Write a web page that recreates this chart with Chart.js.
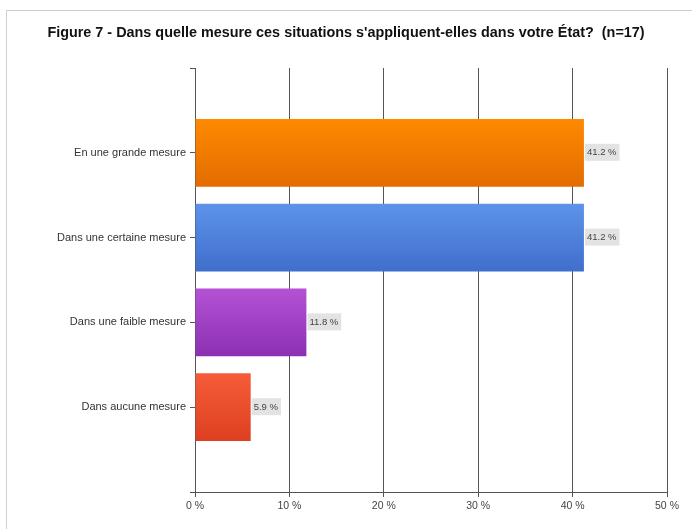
<!DOCTYPE html>
<html lang="fr">
<head>
<meta charset="utf-8">
<title>Figure 7</title>
<script src="https://cdn.jsdelivr.net/npm/chart.js@4/dist/chart.umd.min.js"></script>
<style>
    html, body { margin: 0; padding: 0; background: #fff; }
    #wrap { position: relative; width: 692px; height: 529px; overflow: hidden; }
    #frame { position: absolute; left: 6px; top: 10px; width: 700px; height: 540px;
             border-left: 1px solid #cfcfcf; border-top: 1px solid #cfcfcf; }
    #title { position: absolute; left: 0; width: 692px; top: 24px; text-align: center;
             font: bold 14.4px "Liberation Sans", Arial, sans-serif; color: #111; white-space: pre; }
    canvas { position: absolute; left: 0; top: 0; }
</style>
</head>
<body>
<div id="wrap">
    <div id="frame"></div>
    <canvas id="chart" width="692" height="529"></canvas>
    <div id="title">Figure 7 - Dans quelle mesure ces situations s'appliquent-elles dans votre État?  (n=17)</div>
</div>
<script>
// Categories (empty slots at both ends keep the spacing of the original)
const categories = ['', 'En une grande mesure', 'Dans une certaine mesure', 'Dans une faible mesure', 'Dans aucune mesure', ''];
// Percent of answers (n=17)
const values = [null, 41.2, 41.2, 11.8, 5.9, null];
// Top / bottom colours of each bar gradient
const topColors = [null, '#ff8a00', '#5e93ea', '#b452d4', '#f65c3a'];
const bottomColors = [null, '#e26c00', '#3f6ecb', '#8c30b2', '#dc4020'];
const xTicks = [0, 10, 20, 30, 40, 50];

const fontFamily = '"Liberation Sans", Arial, sans-serif';

// Vertical gradient for each bar, built from the y scale
function barGradient(ctx) {
    const chart = ctx.chart;
    const i = ctx.dataIndex;
    const yScale = chart.scales.y;
    if (!chart.chartArea || !yScale || topColors[i] == null) return topColors[i] || '#ccc';
    const step = yScale.getPixelForValue(1) - yScale.getPixelForValue(0);
    const y = yScale.getPixelForValue(i);
    const half = step * 0.8 / 2;
    const g = chart.ctx.createLinearGradient(0, y - half, 0, y + half);
    g.addColorStop(0, topColors[i]);
    g.addColorStop(1, bottomColors[i]);
    return g;
}

// Value labels with a grey box right of each bar
const valueLabels = {
    id: 'valueLabels',
    afterDatasetsDraw(chart) {
        const ctx = chart.ctx;
        const meta = chart.getDatasetMeta(0);
        ctx.save();
        ctx.font = '9.5px ' + fontFamily;
        ctx.textBaseline = 'middle';
        meta.data.forEach((el, i) => {
            if (values[i] == null) return;
            const text = values[i].toFixed(1) + ' %';
            const w = ctx.measureText(text).width + 5;
            const x = el.x + 1;
            ctx.fillStyle = '#e3e3e3';
            ctx.fillRect(x, el.y - 9, w, 17);
            ctx.fillStyle = '#444';
            ctx.fillText(text, x + 2, el.y);
        });
        ctx.restore();
    }
};

new Chart(document.getElementById('chart'), {
    type: 'bar',
    data: {
        labels: categories,
        datasets: [{
            data: values,
            backgroundColor: barGradient,
            borderWidth: 0,
            categoryPercentage: 0.8,
            barPercentage: 1
        }]
    },
    options: {
        indexAxis: 'y',
        responsive: false,
        animation: false,
        layout: { padding: { top: 68, right: 25, bottom: 0, left: 0 } },
        plugins: {
            legend: { display: false },
            tooltip: { enabled: false },
            title: { display: false }
        },
        scales: {
            x: {
                min: 0,
                max: 50,
                afterBuildTicks: s => { s.ticks = xTicks.map(v => ({ value: v })); },
                afterFit: s => { s.height = 37; },
                grid: { color: '#555', lineWidth: 1, tickLength: 5 },
                border: { display: true, color: '#555' },
                ticks: {
                    color: '#444',
                    padding: 3,
                    font: { family: fontFamily, size: 10.5 },
                    callback: v => v + ' %'
                }
            },
            y: {
                offset: false,
                afterFit: s => { s.width = 195; },
                grid: { offset: false, drawOnChartArea: false, color: '#555', tickLength: 5 },
                border: { display: true, color: '#555' },
                ticks: {
                    color: '#333',
                    padding: 4,
                    font: { family: fontFamily, size: 11 }
                }
            }
        }
    },
    plugins: [valueLabels]
});
</script>
</body>
</html>
